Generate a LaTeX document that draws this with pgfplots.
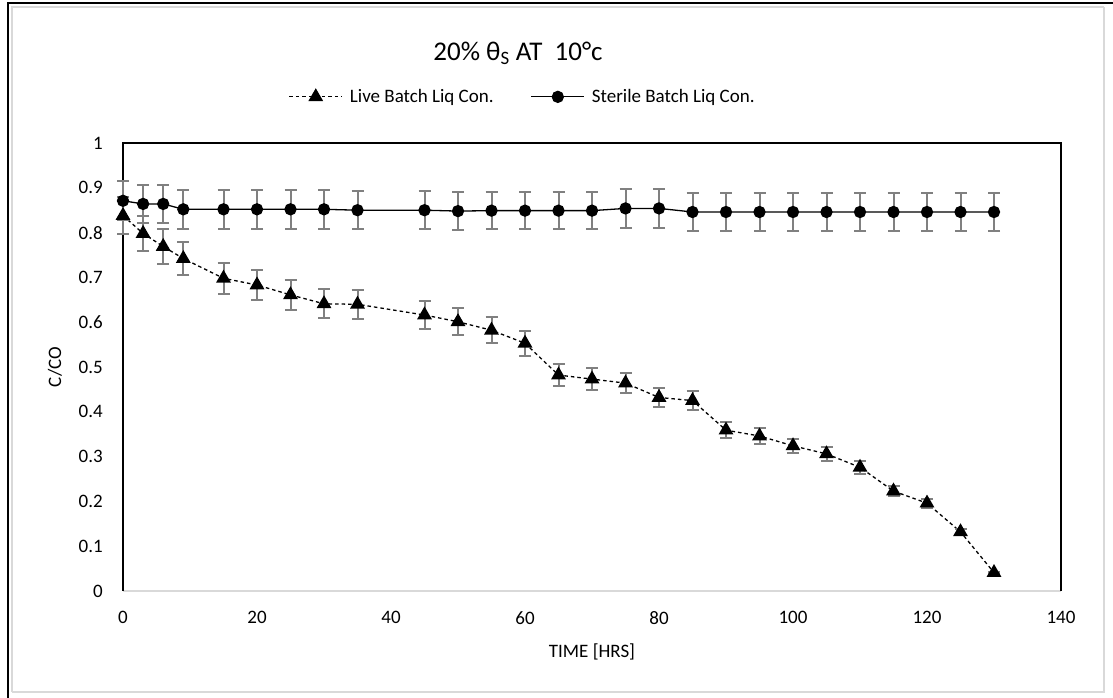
\documentclass[border=0pt]{standalone}
\usepackage{pgfplots}
\pgfplotsset{compat=1.18}
\usepackage{pgfplotstable}
\usepackage{fontspec}
\setmainfont{Carlito}
\definecolor{errgray}{RGB}{128,128,128}
\definecolor{framegray}{RGB}{217,217,217}

\pgfplotstableread{
x y e
0 0.838 0.042
3 0.798 0.040
6 0.769 0.038
9 0.742 0.037
15 0.698 0.035
20 0.683 0.034
25 0.661 0.033
30 0.641 0.032
35 0.640 0.032
45 0.616 0.031
50 0.601 0.030
55 0.582 0.029
60 0.553 0.028
65 0.482 0.024
70 0.473 0.024
75 0.464 0.023
80 0.432 0.022
85 0.425 0.021
90 0.359 0.018
95 0.346 0.017
100 0.324 0.016
105 0.306 0.015
110 0.276 0.014
115 0.223 0.011
120 0.196 0.010
125 0.132 0.007
130 0.041 0.002
}\livedata

\pgfplotstableread{
x y e
0 0.871 0.044
3 0.864 0.043
6 0.864 0.043
9 0.852 0.043
15 0.852 0.043
20 0.852 0.043
25 0.852 0.043
30 0.852 0.043
35 0.850 0.043
45 0.850 0.043
50 0.848 0.042
55 0.849 0.042
60 0.849 0.042
65 0.849 0.042
70 0.849 0.042
75 0.854 0.043
80 0.854 0.043
85 0.846 0.042
90 0.846 0.042
95 0.846 0.042
100 0.846 0.042
105 0.846 0.042
110 0.846 0.042
115 0.846 0.042
120 0.846 0.042
125 0.846 0.042
130 0.846 0.042
}\steriledata

\begin{document}
\begin{tikzpicture}
% outer chart frame
\path[use as bounding box] (0pt,0pt) rectangle (1113pt,698pt);
\draw[framegray, line width=2pt] (12pt,6pt) -- (1104pt,6pt) -- (1104pt,691pt);
\draw[framegray, line width=2pt] (12pt,6pt) -- (12pt,691pt) -- (1104pt,691pt);
\draw[black, line width=2pt] (8pt,0pt) -- (8pt,695pt) -- (1113pt,695pt);

\node[font=\fontsize{27}{32}\selectfont, anchor=center] at (518pt,645pt) {20\% θ\textsubscript{S} AT\ \ 10°c};

\begin{axis}[
  at={(123pt,107pt)}, anchor=south west,
  scale only axis, width=938pt, height=448pt,
  xmin=0, xmax=140, ymin=0, ymax=1,
  xtick={0,20,...,140},
  ytick={0,0.1,...,1},
  yticklabels={0,0.1,0.2,0.3,0.4,0.5,0.6,0.7,0.8,0.9,1},
  major tick style={draw=none},
  major tick length=0pt,
  axis line style={draw=none},
  tick label style={font=\fontsize{19}{23}\selectfont},
  /pgf/number format/assume math mode=true,
  yticklabel style={inner sep=0pt, anchor=east, xshift=-20pt},
  xticklabel style={inner sep=0pt, anchor=north, yshift=-20pt},
  label style={font=\fontsize{19}{23}\selectfont},
  xlabel={TIME [HRS]},
  ylabel={C/CO},
  every axis x label/.append style={at={(axis description cs:0.5,-0.136)}, anchor=center},
  every axis y label/.append style={at={(axis description cs:-0.0725,0.5)}, anchor=center},
  clip=false,
  legend columns=2,
  legend style={at={(0.425,1.103)}, anchor=center, draw=none, fill=none,
    font=\fontsize{19}{23}\selectfont,
    nodes={inner sep=0pt},
    /tikz/every even column/.append style={column sep=37pt},
    /tikz/every odd column/.append style={column sep=7pt}},
  legend image code/.code={\draw[mark repeat=2,mark phase=2] plot coordinates {(0pt,0pt) (26.5pt,0pt) (53pt,0pt)};},
]
\draw[framegray, line width=2pt] (rel axis cs:0,0) -- (rel axis cs:1,0);
\draw[black, line width=1.3pt] (rel axis cs:0,0) -- (rel axis cs:0,1) -- (rel axis cs:1,1) -- (rel axis cs:1,0);
\addplot[black, line width=1.3pt, dash pattern=on 3.5pt off 3pt,
  mark=triangle*, mark size=7.3pt, mark options={solid, fill=black},
  error bars/.cd, y dir=both, y explicit,
  error bar style={errgray, line width=2pt, solid},
  error mark options={errgray, rotate=90, mark size=6pt, line width=2pt, solid}]
  table[x=x, y=y, y error=e] {\livedata};
\addlegendentry{Live Batch Liq Con.}
\addplot[black, line width=1.3pt,
  mark=*, mark size=5.5pt, mark options={fill=black},
  error bars/.cd, y dir=both, y explicit,
  error bar style={errgray, line width=2pt},
  error mark options={errgray, rotate=90, mark size=6pt, line width=2pt}]
  table[x=x, y=y, y error=e] {\steriledata};
\addlegendentry{Sterile Batch Liq Con.}
\end{axis}
\end{tikzpicture}
\end{document}
